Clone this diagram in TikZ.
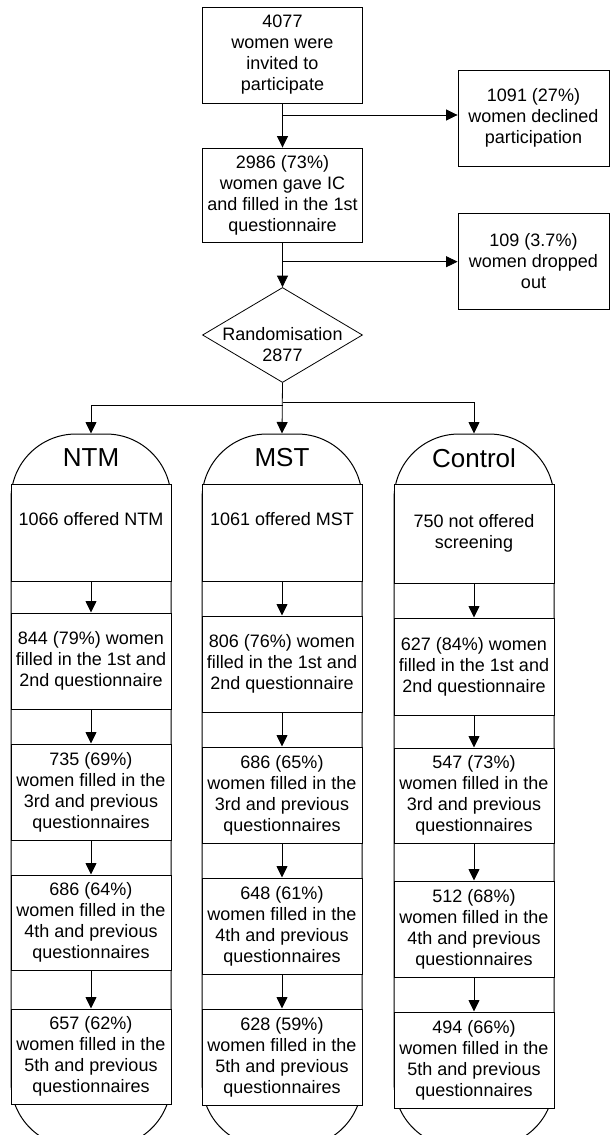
\documentclass[tikz,border=0pt]{standalone}
\usepackage{fontspec}
\setmainfont{Liberation Sans}
\usetikzlibrary{arrows.meta,shapes.geometric}
\begin{document}
\begin{tikzpicture}[x=1pt,y=-1pt,
  txt/.style={align=center, inner sep=0pt, font=\fontsize{18pt}{21pt}\selectfont},
  box/.style={txt, draw, line width=0.9pt, fill=white},
  colbox/.style={box, line width=1pt, minimum width=160pt},
  capsule/.style={draw, line width=1pt, rounded corners=65pt, minimum width=160pt,
                  minimum height=713pt, inner sep=0pt},
  title/.style={inner sep=0pt, font=\fontsize{26pt}{30pt}\selectfont},
  flow/.style={draw, line width=0.8pt, -{Triangle[length=11.5pt,width=11pt]}}
]
\useasboundingbox (0,0) rectangle (610,1135);
\clip (0,0) rectangle (610,1135);

% enrolment
\node[box, minimum width=160pt, minimum height=96pt] (invited) at (282.5,55)
  {4077\\women were\\invited to\\participate};
\node[box, minimum width=151pt, minimum height=96pt] (declined) at (533.5,118)
  {1091 (27\%)\\women declined\\participation};
\node[box, minimum width=160pt, minimum height=94pt] (consent) at (282.5,195)
  {2986 (73\%)\\women gave IC\\and filled in the 1st\\questionnaire};
\node[box, minimum width=151pt, minimum height=96pt] (dropped) at (533.5,261)
  {109 (3.7\%)\\women dropped\\out};
\node[diamond, draw, line width=0.8pt, minimum width=160pt, minimum height=95pt,
      inner sep=0pt] (rand) at (282.5,335) {};
\node[txt] (randtxt) at (282.5,345) {Randomisation\\2877};

\coordinate (b1) at (282.5,115);
\coordinate (b2) at (282.5,261.7);
\draw[flow] (invited) -- (consent);
\draw[flow] (b1) -- (b1 -| declined.west);
\draw[flow] (consent) -- (rand);
\draw[flow] (b2) -- (b2 -| dropped.west);

% study arms
\node[capsule] (ntm) at (91,790.5) {};
\node[capsule] (mst) at (282,790.5) {};
\node[capsule] (ctl) at (474,790.5) {};
\node[title] (ntmt) at (91,458) {NTM};
\node[title] (mstt) at (282,458) {MST};
\node[title] (ctlt) at (474,458) {Control};

\coordinate (bl) at (282.5,405);
\coordinate (br) at (282.5,402);
\draw[flow] (rand.south) -- (mst.north);
\draw[flow] (bl) -| (ntm.north);
\draw[flow] (br) -| (ctl.north);

% NTM arm
\node[colbox, minimum height=97pt] (ntm1) at (91,532.5) {1066 offered NTM\\\strut};
\node[colbox, minimum height=96pt] (ntm2) at (91,661)
  {844 (79\%) women\\filled in the 1st and\\2nd questionnaire};
\node[colbox, minimum height=96pt] (ntm3) at (91,792)
  {735 (69\%)\\women filled in the\\3rd and previous\\questionnaires};
\node[colbox, minimum height=95pt] (ntm4) at (91,922.5)
  {686 (64\%)\\women filled in the\\4th and previous\\questionnaires};
\node[colbox, minimum height=95pt] (ntm5) at (91,1056.5)
  {657 (62\%)\\women filled in the\\5th and previous\\questionnaires};

% MST arm
\node[colbox, minimum height=97pt] (mst1) at (282,532.5) {1061 offered MST\\\strut};
\node[colbox, minimum height=96pt] (mst2) at (282,664)
  {806 (76\%) women\\filled in the 1st and\\2nd questionnaire};
\node[colbox, minimum height=96pt] (mst3) at (282,795)
  {686 (65\%)\\women filled in the\\3rd and previous\\questionnaires};
\node[colbox, minimum height=96pt] (mst4) at (282,926)
  {648 (61\%)\\women filled in the\\4th and previous\\questionnaires};
\node[colbox, minimum height=96pt] (mst5) at (282,1057)
  {628 (59\%)\\women filled in the\\5th and previous\\questionnaires};

% control arm
\node[colbox, minimum height=99pt] (ctl1) at (474,533.5) {750 not offered\\screening};
\node[colbox, minimum height=97pt] (ctl2) at (474,666.5)
  {627 (84\%) women\\filled in the 1st and\\2nd questionnaire};
\node[colbox, minimum height=95pt] (ctl3) at (474,795.5)
  {547 (73\%)\\women filled in the\\3rd and previous\\questionnaires};
\node[colbox, minimum height=96pt] (ctl4) at (474,929)
  {512 (68\%)\\women filled in the\\4th and previous\\questionnaires};
\node[colbox, minimum height=96pt] (ctl5) at (474,1060)
  {494 (66\%)\\women filled in the\\5th and previous\\questionnaires};

\foreach \a in {ntm,mst,ctl}{
  \draw[flow] (\a1) -- (\a2);
  \draw[flow] (\a2) -- (\a3);
  \draw[flow] (\a3) -- (\a4);
  \draw[flow] (\a4) -- (\a5);
}
\end{tikzpicture}
\end{document}
